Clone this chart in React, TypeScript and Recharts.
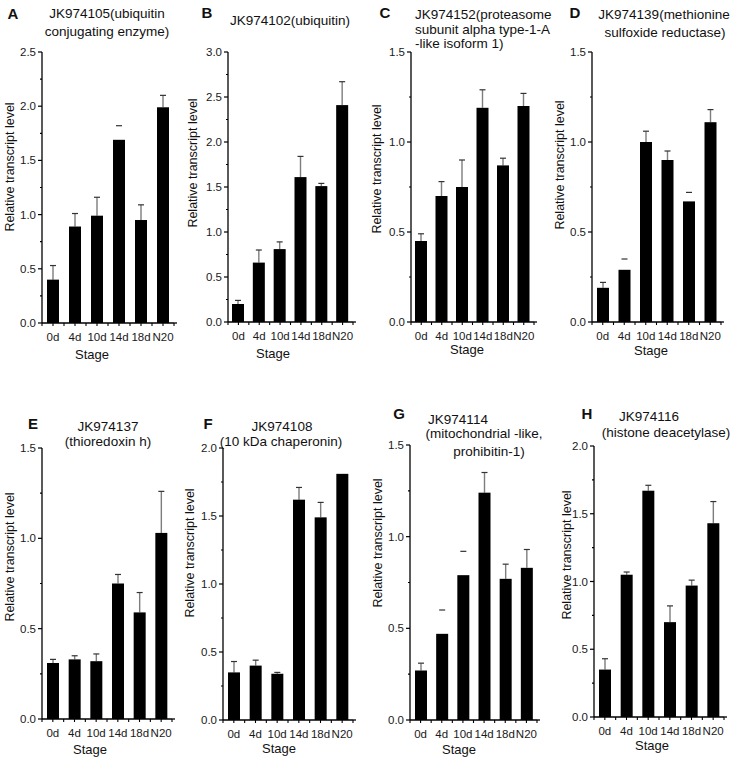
import React from 'react';
import { BarChart, Bar, XAxis, YAxis } from 'recharts';

const FONT = '"Liberation Sans", Arial, Helvetica, sans-serif';

const stages = ['0d', '4d', '10d', '14d', '18d', 'N20'];

// mean values and the top of each error bar
const aMean = [0.4, 0.89, 0.99, 1.69, 0.95, 1.99];
const aUpper = [0.53, 1.01, 1.16, 1.82, 1.09, 2.1];
const aCapOnly = [3];

const bMean = [0.2, 0.66, 0.81, 1.61, 1.51, 2.41];
const bUpper = [0.24, 0.8, 0.89, 1.84, 1.54, 2.67];
const bCapOnly: number[] = [];

const cMean = [0.45, 0.7, 0.75, 1.19, 0.87, 1.2];
const cUpper = [0.49, 0.78, 0.9, 1.29, 0.91, 1.27];
const cCapOnly: number[] = [];

const dMean = [0.19, 0.29, 1.0, 0.9, 0.67, 1.11];
const dUpper = [0.22, 0.35, 1.06, 0.95, 0.72, 1.18];
const dCapOnly = [1, 4];

const eMean = [0.31, 0.33, 0.32, 0.75, 0.59, 1.03];
const eUpper = [0.33, 0.35, 0.36, 0.8, 0.7, 1.26];
const eCapOnly: number[] = [];

const fMean = [0.35, 0.4, 0.34, 1.62, 1.49, 1.81];
const fUpper = [0.43, 0.44, 0.35, 1.71, 1.6, 1.81];
const fCapOnly: number[] = [];

const gMean = [0.27, 0.47, 0.79, 1.24, 0.77, 0.83];
const gUpper = [0.31, 0.6, 0.92, 1.35, 0.85, 0.93];
const gCapOnly = [1, 2];

const hMean = [0.35, 1.05, 1.67, 0.7, 0.97, 1.43];
const hUpper = [0.43, 1.07, 1.71, 0.82, 1.01, 1.59];
const hCapOnly: number[] = [];

interface TitleLine {
  text: string;
  x: number;
  y: number;
  anchor?: 'start' | 'middle';
}

interface Panel {
  letter: string;
  letterPos: [number, number];
  title: TitleLine[];
  mean: number[];
  upper: number[];
  capOnly: number[];
  yMax: number;
  axisX: number;
  top: number;
  zero: number;
  right: number;
  yLabel: [number, number];
  stage: [number, number];
}

const panels: Panel[] = [
  {
    letter: 'A', letterPos: [13, 13],
    title: [
      { text: 'JK974105(ubiquitin', x: 107, y: 14 },
      { text: 'conjugating enzyme)', x: 107, y: 32 },
    ],
    mean: aMean, upper: aUpper, capOnly: aCapOnly, yMax: 2.5,
    axisX: 42, top: 52, zero: 323, right: 174, yLabel: [10, 167], stage: [92, 354],
  },
  {
    letter: 'B', letterPos: [207, 12],
    title: [{ text: 'JK974102(ubiquitin)', x: 290, y: 21 }],
    mean: bMean, upper: bUpper, capOnly: bCapOnly, yMax: 3.0,
    axisX: 228, top: 52, zero: 322, right: 353, yLabel: [193, 163], stage: [273, 353],
  },
  {
    letter: 'C', letterPos: [385, 12],
    title: [
      { text: 'JK974152(proteasome', x: 415, y: 15, anchor: 'start' },
      { text: 'subunit alpha type-1-A', x: 415, y: 30, anchor: 'start' },
      { text: '-like isoform 1)', x: 415, y: 44, anchor: 'start' },
    ],
    mean: cMean, upper: cUpper, capOnly: cCapOnly, yMax: 1.5,
    axisX: 411, top: 52, zero: 322, right: 534, yLabel: [377, 169], stage: [467, 349],
  },
  {
    letter: 'D', letterPos: [575, 12],
    title: [
      { text: 'JK974139(methionine', x: 664, y: 15 },
      { text: 'sulfoxide reductase)', x: 665, y: 33 },
    ],
    mean: dMean, upper: dUpper, capOnly: dCapOnly, yMax: 1.5,
    axisX: 592, top: 52, zero: 322, right: 721, yLabel: [560, 165], stage: [651, 350],
  },
  {
    letter: 'E', letterPos: [33, 423],
    title: [
      { text: 'JK974137', x: 108, y: 427 },
      { text: '(thioredoxin h)', x: 108, y: 442 },
    ],
    mean: eMean, upper: eUpper, capOnly: eCapOnly, yMax: 1.5,
    axisX: 42, top: 448, zero: 719, right: 172, yLabel: [10, 557], stage: [90, 749],
  },
  {
    letter: 'F', letterPos: [208, 423],
    title: [
      { text: 'JK974108', x: 282, y: 427 },
      { text: '(10 kDa chaperonin)', x: 281, y: 442 },
    ],
    mean: fMean, upper: fUpper, capOnly: fCapOnly, yMax: 2.0,
    axisX: 223, top: 448, zero: 720, right: 353, yLabel: [190, 553], stage: [279, 748],
  },
  {
    letter: 'G', letterPos: [399, 413],
    title: [
      { text: 'JK974114', x: 458, y: 420 },
      { text: '(mitochondrial -like,', x: 484, y: 434 },
      { text: 'prohibitin-1)', x: 489, y: 452 },
    ],
    mean: gMean, upper: gUpper, capOnly: gCapOnly, yMax: 1.5,
    axisX: 410, top: 445, zero: 720, right: 537, yLabel: [378, 543], stage: [459, 749],
  },
  {
    letter: 'H', letterPos: [587, 413],
    title: [
      { text: 'JK974116', x: 649, y: 417 },
      { text: '(histone deacetylase)', x: 666, y: 433 },
    ],
    mean: hMean, upper: hUpper, capOnly: hCapOnly, yMax: 2.0,
    axisX: 594, top: 446, zero: 717, right: 724, yLabel: [567, 555], stage: [652, 745],
  },
];

const Y_W = 34;
const PAD_TOP = 6;
const PAD_RIGHT = 8;
const X_H = 30;

function ErrBarShape(props: any) {
  const { x, y, width, height, payload } = props;
  const cx = x + width / 2;
  const base = y + height;
  const hasErr = payload.upper > payload.mean + 1e-9 && payload.mean > 0;
  const ey = base - (payload.upper / payload.mean) * height;
  return (
    <g>
      {hasErr && !payload.capOnly && (
        <line x1={cx} x2={cx} y1={y} y2={ey} stroke="#7d7d7d" strokeWidth={1.4} />
      )}
      <rect x={x} y={y} width={width} height={height} fill="#000" />
      {hasErr && (
        <line x1={cx - 3} x2={cx + 3} y1={ey} y2={ey} stroke="#333" strokeWidth={1.2} />
      )}
    </g>
  );
}

function YTick(props: any) {
  const { x, y, payload } = props;
  const v = payload.value as number;
  const major = Math.abs(v * 2 - Math.round(v * 2)) < 1e-6;
  return (
    <g>
      <line x1={x - (major ? 4 : 2)} x2={x} y1={y} y2={y} stroke="#000" strokeWidth={1.2} />
      {major && (
        <text x={x - 6} y={y} dy={4} textAnchor="end" fontSize={11.5} fill="#1a1a1a" fontFamily={FONT}>
          {v.toFixed(1)}
        </text>
      )}
    </g>
  );
}

function makeXTick(band: number) {
  return function XTick(props: any) {
    const { x, y, payload, index } = props;
    return (
      <g>
        <line x1={x} x2={x} y1={y} y2={y + 3} stroke="#000" strokeWidth={1.1} />
        <line x1={x - band / 2} x2={x - band / 2} y1={y} y2={y + 3} stroke="#000" strokeWidth={1.1} />
        {index === stages.length - 1 && (
          <>
            <line x1={x + band / 2} x2={x + band / 2} y1={y} y2={y + 3} stroke="#000" strokeWidth={1.1} />
            <line x1={x + band / 2} x2={x + band / 2 + 3} y1={y} y2={y} stroke="#000" strokeWidth={1.3} />
          </>
        )}
        <text x={x} y={y + 18} textAnchor="middle" fontSize={11.5} fill="#1a1a1a" fontFamily={FONT}>
          {payload.value}
        </text>
      </g>
    );
  };
}

function Txt({ x, y, size = 13, bold = false, anchor = 'middle', rotate = false, children }: any) {
  const tx = anchor === 'start' ? '0' : '-50%';
  return (
    <div
      style={{
        position: 'absolute',
        left: x,
        top: y,
        transform: `translate(${tx}, -50%)${rotate ? ' rotate(-90deg)' : ''}`,
        fontFamily: FONT,
        fontSize: size,
        fontWeight: bold ? 700 : 400,
        lineHeight: 1,
        whiteSpace: 'nowrap',
        color: '#111',
      }}
    >
      {children}
    </div>
  );
}

function PanelChart({ p }: { p: Panel }) {
  const data = stages.map((s, i) => ({
    stage: s,
    mean: p.mean[i],
    upper: p.upper[i],
    capOnly: p.capOnly.includes(i),
  }));
  const ticks: number[] = [];
  for (let i = 0; i <= Math.round(p.yMax / 0.25); i++) ticks.push(i * 0.25);
  const plotW = p.right - p.axisX;
  const band = plotW / stages.length;
  const width = Y_W + plotW + PAD_RIGHT;
  const height = PAD_TOP + (p.zero - p.top) + X_H;

  return (
    <>
      <div style={{ position: 'absolute', left: p.axisX - Y_W, top: p.top - PAD_TOP }}>
        <BarChart
          width={width}
          height={height}
          data={data}
          margin={{ top: PAD_TOP, right: PAD_RIGHT, bottom: 0, left: 0 }}
          barSize={12}
        >
          <XAxis
            dataKey="stage"
            height={X_H}
            interval={0}
            tickSize={0}
            tickMargin={0}
            tickLine={false}
            axisLine={{ stroke: '#000', strokeWidth: 1.3 }}
            tick={makeXTick(band)}
          />
          <YAxis
            width={Y_W}
            domain={[0, p.yMax]}
            ticks={ticks}
            interval={0}
            tickSize={0}
            tickMargin={0}
            tickLine={false}
            axisLine={{ stroke: '#000', strokeWidth: 1.3 }}
            tick={<YTick />}
          />
          <Bar dataKey="mean" shape={<ErrBarShape />} isAnimationActive={false} />
        </BarChart>
      </div>
      <Txt x={p.letterPos[0]} y={p.letterPos[1]} size={15} bold>
        {p.letter}
      </Txt>
      {p.title.map((t) => (
        <Txt key={t.text} x={t.x} y={t.y} size={13.5} anchor={t.anchor ?? 'middle'}>
          {t.text}
        </Txt>
      ))}
      <Txt x={p.yLabel[0]} y={p.yLabel[1]} size={12.5} rotate>
        Relative transcript level
      </Txt>
      <Txt x={p.stage[0]} y={p.stage[1]} size={13}>
        Stage
      </Txt>
    </>
  );
}

export default function App() {
  return (
    <div
      style={{
        position: 'absolute',
        left: 0,
        top: 0,
        width: 730,
        height: 759,
        background: '#fff',
        overflow: 'hidden',
      }}
    >
      {panels.map((p) => (
        <PanelChart key={p.letter} p={p} />
      ))}
    </div>
  );
}
